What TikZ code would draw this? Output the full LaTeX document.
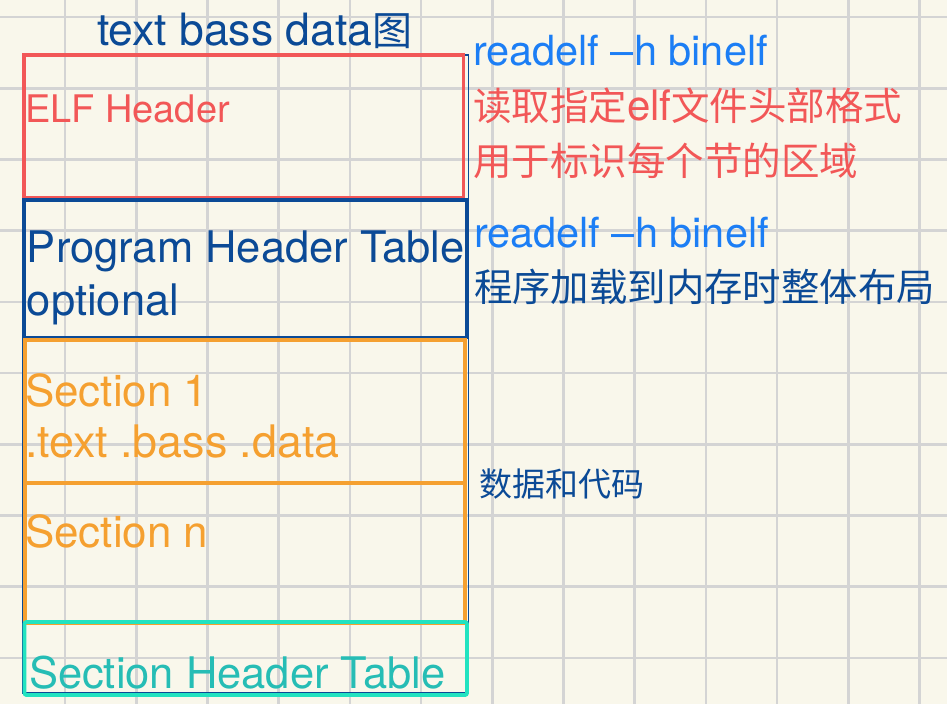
\documentclass[tikz,border=0pt]{standalone}
\usepackage{fontspec}
\setmainfont{TeX Gyre Heros}
\newfontfamily\cjk{Noto Sans CJK SC}
\definecolor{bgc}{HTML}{F9F7EB}
\definecolor{gridc}{HTML}{D4D4D4}
\definecolor{redc}{HTML}{F25757}
\definecolor{navyc}{HTML}{0B4A96}
\definecolor{skyc}{HTML}{1C7EF5}
\definecolor{orangec}{HTML}{F5A030}
\definecolor{tealline}{HTML}{22E3C0}
\definecolor{tealtext}{HTML}{26BDB5}
\tikzset{
  gridline/.style={draw=gridc, line width=2.6pt},
  boxline/.style={line width=3.8pt},
  lbl/.style={anchor=base west, inner sep=0pt, outer sep=0pt},
}
\newcommand{\fs}[1]{\fontsize{#1}{#1}\selectfont}
\begin{document}
\begin{tikzpicture}[x=1pt,y=-1pt]
\useasboundingbox (0,0) rectangle (947,704);
\fill[bgc] (0,0) rectangle (947,704);
% grid
\foreach \i in {0,...,12} \draw[gridline] ({65+71.2*\i},0) -- ({65+71.2*\i},704);
\foreach \j in {0,...,9} \draw[gridline] (0,{17+71.2*\j}) -- (947,{17+71.2*\j});
% outer thin frame
\draw[navyc, line width=1.5pt] (23,55) rectangle (468.5,693);
% boxes
\draw[redc, boxline] (24,55) rectangle (463.5,198);
\draw[navyc, boxline] (24,200) rectangle (467,337.5);
\draw[orangec, boxline] (25,340) rectangle (465,623);
\draw[orangec, boxline] (25,483) -- (465,483);
\draw[tealline, boxline, rounded corners=2pt] (24.5,622) rectangle (467,695);
% left texts
\node[lbl, text=navyc, font=\fs{44.5}] (title) at (97,45) {text bass data{\cjk\fs{40}图}};
\node[lbl, text=redc, font=\fs{38}] (elf) at (25,122) {ELF Header};
\node[lbl, text=navyc, font=\fs{43.5}] (pht) at (27,262) {Program Header Table};
\node[lbl, text=navyc, font=\fs{43.5}] (opt) at (27,315) {optional};
\node[lbl, text=orangec, font=\fs{44}] (sec1) at (25,406) {Section 1};
\node[lbl, text=orangec, font=\fs{44.8}] (sec1b) at (25,457) {.text .bass .data};
\node[lbl, text=orangec, font=\fs{44}] (secn) at (25,547) {Section n};
\node[lbl, text=tealtext, font=\fs{43.5}] (sht) at (29,688) {Section Header Table};
% right texts
\node[lbl, text=skyc, font=\fs{41.5}] (r1) at (473,65) {readelf –h binelf};
\node[lbl, text=redc, font=\fs{42}] (r2) at (473,120) {{\cjk\fs{38.5}读取指定}elf{\cjk\fs{38.5}文件头部格式}};
\node[lbl, text=redc, font=\cjk\fs{38.5}] (r3) at (473,175) {用于标识每个节的区域};
\node[lbl, text=skyc, font=\fs{41.5}] (r4) at (474,247) {readelf –h binelf};
\node[lbl, text=navyc, font=\cjk\fs{38.4}] (r5) at (474,301.5) {程序加载到内存时整体布局};
\node[lbl, text=navyc, font=\cjk\fs{33}] (r6) at (479,496.5) {数据和代码};
\end{tikzpicture}
\end{document}
